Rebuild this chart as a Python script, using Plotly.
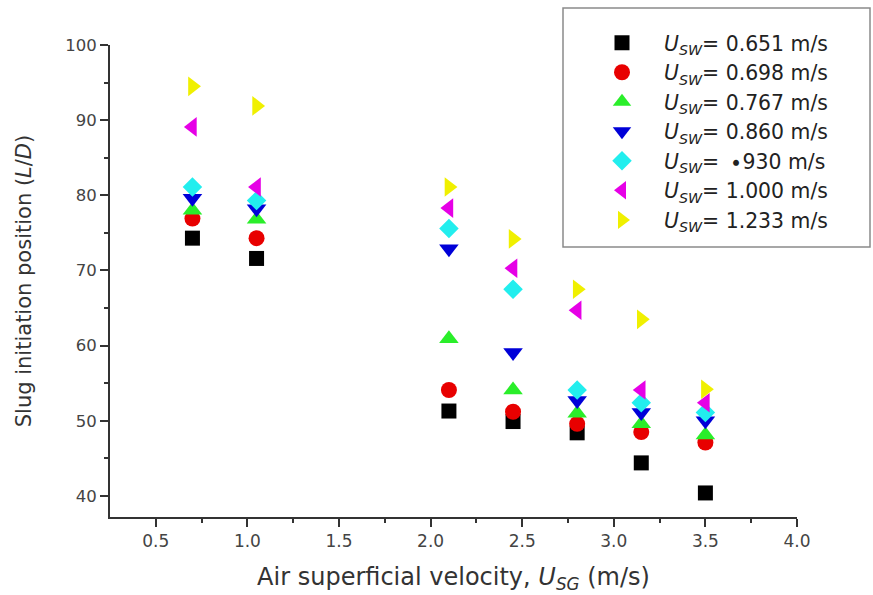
import plotly.graph_objects as go

usg = [0.7, 1.05, 2.1, 2.45, 2.8, 3.15, 3.5]

series_labels = ["0.651", "0.698", "0.767", "0.860", "\u2009\u2219930", "1.000", "1.233"]
y_0651 = [74.3, 71.6, 51.3, 49.9, 48.4, 44.4, 40.4]
y_0698 = [76.9, 74.3, 54.1, 51.2, 49.6, 48.5, 47.1]
y_0767 = [78.0, 76.8, 60.9, 54.1, 51.0, 49.6, 48.1]
y_0860 = [79.6, 78.2, 72.9, 59.1, 52.7, 51.1, 50.0]
y_0930 = [81.1, 79.3, 75.6, 67.5, 54.1, 52.4, 51.1]
y_1000 = [89.1, 81.1, 78.3, 70.3, 64.7, 54.1, 52.4]
y_1233 = [94.5, 91.9, 81.1, 74.2, 67.5, 63.5, 54.2]

all_y = [y_0651, y_0698, y_0767, y_0860, y_0930, y_1000, y_1233]
symbols = ["square", "circle", "triangle-up", "triangle-down", "diamond", "triangle-left", "triangle-right"]
colors = ["#000000", "#e80000", "#2aee2a", "#0000d8", "#22eeee", "#e600e6", "#f0f000"]
sizes = [15, 16, 17, 17, 15, 17, 17]

FONT = "DejaVu Sans, Verdana, sans-serif"

fig = go.Figure()
for lab, ys, sym, col, sz in zip(series_labels, all_y, symbols, colors, sizes):
    fig.add_trace(go.Scatter(
        x=usg, y=ys, mode="markers",
        name="<i>U</i><sub><i>SW</i></sub>= " + lab + " m/s",
        marker=dict(symbol=sym, color=col, size=sz, line=dict(width=0)),
    ))

W, H = 873, 595
L, R, T, B = 110, 76, 45, 78
pw, ph = W - L - R, H - T - B

def px_x(px):
    return (px - L) / pw

def px_y(py):
    return (H - B - py) / ph

fig.add_shape(type="rect", xref="paper", yref="paper",
              x0=px_x(563), x1=px_x(870), y0=px_y(247), y1=px_y(8),
              line=dict(color="#8a8a8a", width=1.5), fillcolor="white", layer="below")

fig.update_layout(
    width=W, height=H,
    margin=dict(l=L, r=R, t=T, b=B),
    paper_bgcolor="white", plot_bgcolor="white",
    font=dict(family=FONT, color="#333333"),
    showlegend=True,
    legend=dict(x=px_x(580), y=px_y(23), xanchor="left", yanchor="top",
                bgcolor="rgba(0,0,0,0)", borderwidth=0,
                font=dict(family=FONT, size=20.4, color="#222222"),
                itemwidth=74, tracegroupgap=0),
    xaxis=dict(range=[0.25, 4.0], tickvals=[0.5, 1.0, 1.5, 2.0, 2.5, 3.0, 3.5, 4.0],
               ticktext=["0.5", "1.0", "1.5", "2.0", "2.5", "3.0", "3.5", "4.0"],
               showgrid=False, zeroline=False, showline=True, linecolor="#333333", linewidth=2,
               ticks="outside", ticklen=8, tickwidth=2, tickcolor="#333333",
               minor=dict(tickvals=[0.75, 1.25, 1.75, 2.25, 2.75, 3.25, 3.75], ticks="outside",
                          ticklen=4, tickwidth=2, tickcolor="#333333", showgrid=False),
               tickfont=dict(size=17, color="#444444"),
               title=dict(text="Air superficial velocity, <i>U</i><sub><i>SG</i></sub> (m/s)",
                          font=dict(size=24, color="#333333"), standoff=18),
               automargin=False),
    yaxis=dict(range=[37.2, 100], tickvals=[40, 50, 60, 70, 80, 90, 100],
               showgrid=False, zeroline=False, showline=True, linecolor="#333333", linewidth=2,
               ticks="outside", ticklen=8, tickwidth=2, tickcolor="#333333",
               minor=dict(tickvals=[45, 55, 65, 75, 85, 95], ticks="outside",
                          ticklen=4, tickwidth=2, tickcolor="#333333", showgrid=False),
               tickfont=dict(size=16.5, color="#444444"),
               title=dict(text="Slug initiation position (<i>L</i>/<i>D</i>)",
                          font=dict(size=21, color="#333333"), standoff=28),
               automargin=False),
)

fig.write_html("out.html")
